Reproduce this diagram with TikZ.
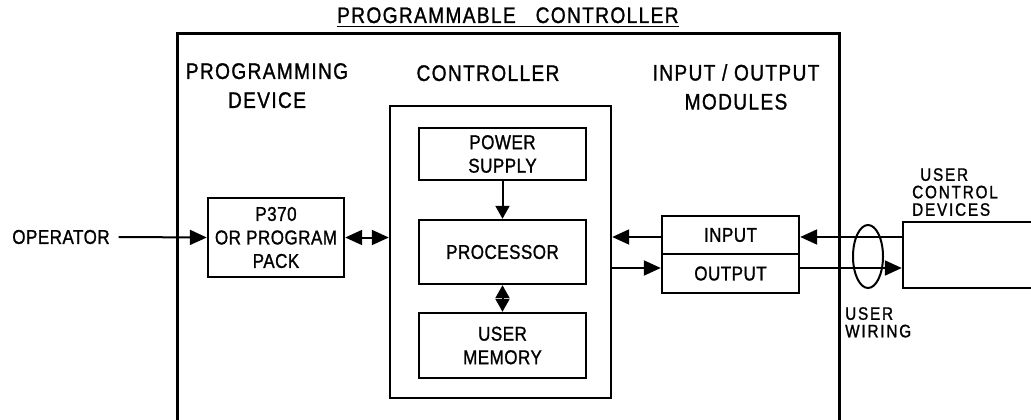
\documentclass[tikz,border=0pt]{standalone}
\usepackage{fontspec}
\setmainfont[FakeStretch=0.85,LetterSpace=2.5,FakeBold=1.2]{Liberation Sans}
\newfontfamily\hdrface[FakeStretch=0.85,LetterSpace=6,FakeBold=1.2]{Liberation Sans}
\newfontfamily\smlface[FakeStretch=0.85,LetterSpace=10,FakeBold=1.2]{Liberation Sans}
\usetikzlibrary{arrows.meta,shapes.geometric}
\newcommand\myhdr{\hdrface\fontsize{22.5}{29}\selectfont}
\newcommand\mybody{\fontsize{20}{23.5}\selectfont}
\newcommand\mysmall{\smlface\fontsize{18}{17.5}\selectfont}
\begin{document}
\begin{tikzpicture}[x=1pt,y=-1pt,
  blk/.style={draw,line width=2.4pt,rectangle,inner sep=2pt,align=center,font=\mybody},
  hdr/.style={align=center,inner sep=0pt,anchor=north,font=\myhdr},
  arr/.style={line width=2pt,-{Triangle[length=17pt,width=15pt]}},
  darr/.style={line width=2pt,{Triangle[length=17pt,width=15pt]}-{Triangle[length=17pt,width=15pt]}},
  varr/.style={line width=2pt,-{Triangle[length=13pt,width=14pt]}},
  vdarr/.style={line width=2pt,{Triangle[length=13pt,width=14pt]}-{Triangle[length=13pt,width=14pt]}},
  outer/.style={line width=3pt}]
\useasboundingbox (0,0) rectangle (1031,420);

% title
\node[inner sep=0pt,font=\myhdr,anchor=base west] (title) at (337,23)
  {PROGRAMMABLE\hspace{20pt}CONTROLLER};
\draw[line width=1.8pt] ([yshift=-3.5pt]title.base west) -- ([yshift=-3.5pt]title.base east);

% outer frame (open at the bottom)
\draw[outer] (177,440) -- (177,34) -- (839,34) -- (839,440);

% section headers
\node[hdr] (h1) at (267,63) {PROGRAMMING\\DEVICE};
\node[hdr] (h2) at (488,65) {CONTROLLER};
\node[hdr] (h3) at (736,64) {INPUT / OUTPUT\\MODULES};

% blocks
\node[blk,minimum width=136,minimum height=79] (p370) at (276,237.5) {P370\\OR PROGRAM\\PACK};
\node[draw,line width=2.4pt,minimum width=221,minimum height=292,inner sep=0pt] (ctrl) at (500.5,252) {};
\node[blk,minimum width=167,minimum height=52] (power) at (502.5,154) {POWER\\SUPPLY};
\node[blk,minimum width=167,minimum height=64] (proc) at (502.5,252) {PROCESSOR};
\node[blk,minimum width=167,minimum height=65] (mem) at (502.5,345.5) {USER\\MEMORY};
\node[blk,minimum width=137,minimum height=38] (input) at (730.5,235) {INPUT};
\node[blk,minimum width=137,minimum height=39] (output) at (730.5,273.5) {OUTPUT};
\node[draw,line width=2.4pt,minimum width=197,minimum height=66,inner sep=0pt] (ucd) at (1001.5,255) {};
\node[draw,line width=2pt,ellipse,minimum width=30,minimum height=63,inner sep=0pt] (wiring) at (868,256.5) {};

% free labels
\node[font=\mybody,inner sep=0pt,outer xsep=9pt] (op) at (61,237) {OPERATOR};
\node[font=\mysmall,align=left,inner sep=0pt,anchor=north west] (ucdl) at (912,168) {\hspace*{8pt}USER\\CONTROL\\DEVICES};
\node[font=\mysmall,align=left,inner sep=0pt,anchor=north west] (wirl) at (845,307) {USER\\WIRING};

% connectors
\coordinate (rin) at (0,237);
\coordinate (rout) at (0,268);
\draw[arr] (op.east) -- (p370.west);
\draw[darr] (p370.east) -- (ctrl.west |- p370.east);
\draw[varr] (power.south) -- (proc.north);
\draw[vdarr] (proc.south) -- (mem.north);
\draw[arr] (input.west |- rin) -- (ctrl.east |- rin);
\draw[arr] (ctrl.east |- rout) -- (output.west |- rout);
\draw[arr] (ucd.west |- rin) -- (input.east |- rin);
\draw[arr] (output.east |- rout) -- (ucd.west |- rout);
\end{tikzpicture}
\end{document}
